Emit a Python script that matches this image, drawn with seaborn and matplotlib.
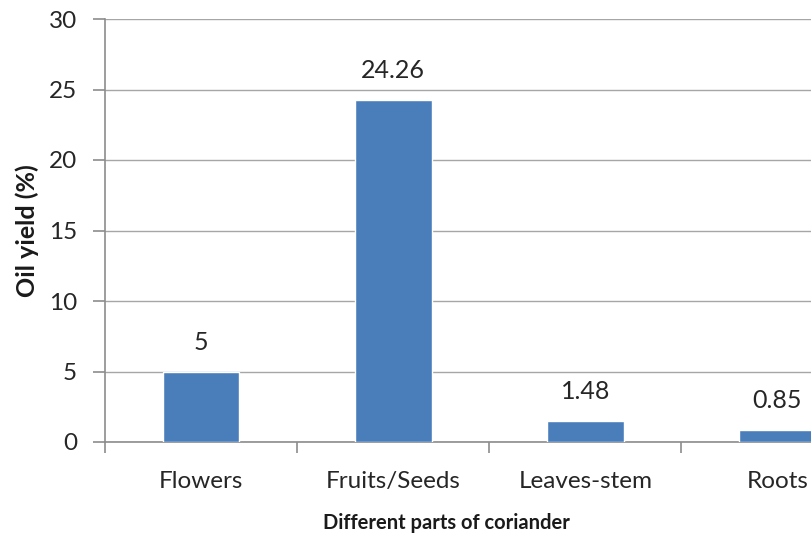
import matplotlib
matplotlib.use("Agg")
import matplotlib.pyplot as plt
import seaborn as sns
import pandas as pd

# data
parts = ["Flowers", "Fruits/Seeds", "Leaves-stem", "Roots"]
oil_yield = [5, 24.26, 1.48, 0.85]
value_labels = ["5", "24.26", "1.48", "0.85"]
y_ticks = [0, 5, 10, 15, 20, 25, 30]

sns.set_style("white")
plt.rcParams["font.family"] = ["Lato", "DejaVu Sans"]

df = pd.DataFrame({"part": parts, "yield": oil_yield})

fig = plt.figure(figsize=(8.12, 5.44), dpi=100)
ax = fig.add_axes([105 / 812, 1 - 442 / 544, 1 - 105 / 812, (442 - 19) / 544])

sns.barplot(data=df, x="part", y="yield", color="#4a7ebb", width=0.4,
            saturation=1, ax=ax, zorder=3)

ax.set_xlim(-0.5, 3.18)
ax.set_ylim(0, 30)
ax.set_yticks(y_ticks)
ax.yaxis.grid(True, color="#a6a6a6", linewidth=1, zorder=0)
ax.set_axisbelow(True)

for sp in ["top", "right"]:
    ax.spines[sp].set_visible(False)
for sp in ["left", "bottom"]:
    ax.spines[sp].set_color("#8c8c8c")
    ax.spines[sp].set_linewidth(1.2)

# x ticks sit between categories, labels at category centres
ax.set_xticks(range(len(parts)))
ax.set_xticklabels(parts)
ax.set_xticks([-0.5, 0.5, 1.5, 2.5], minor=True)
ax.tick_params(axis="both", which="both", bottom=True, left=True)
ax.tick_params(axis="x", which="minor", length=8, color="#8c8c8c", width=1.2)
ax.tick_params(axis="x", which="major", length=0, pad=21, labelsize=17.5, labelcolor="#262626")
ax.tick_params(axis="y", length=9, color="#8c8c8c", width=1.2, pad=11,
               labelsize=17.5, labelcolor="#262626")

for i, (v, lab) in enumerate(zip(oil_yield, value_labels)):
    ax.annotate(lab, (i, v), xytext=(0, 21), textcoords="offset points",
                ha="center", va="center", fontsize=18, color="#262626")

ax.set_xlabel("")
ax.set_ylabel("")
fig.text(27 / 812, 1 - 231 / 544, "Oil yield (%)", rotation=90, ha="center", va="center",
         fontsize=18, fontweight="bold", color="#1a1a1a")
fig.text(446 / 812, 1 - 523 / 544, "Different parts of coriander", ha="center", va="center",
         fontsize=14.5, fontweight="bold", color="#1a1a1a")

fig.savefig("out.png", dpi=100)
